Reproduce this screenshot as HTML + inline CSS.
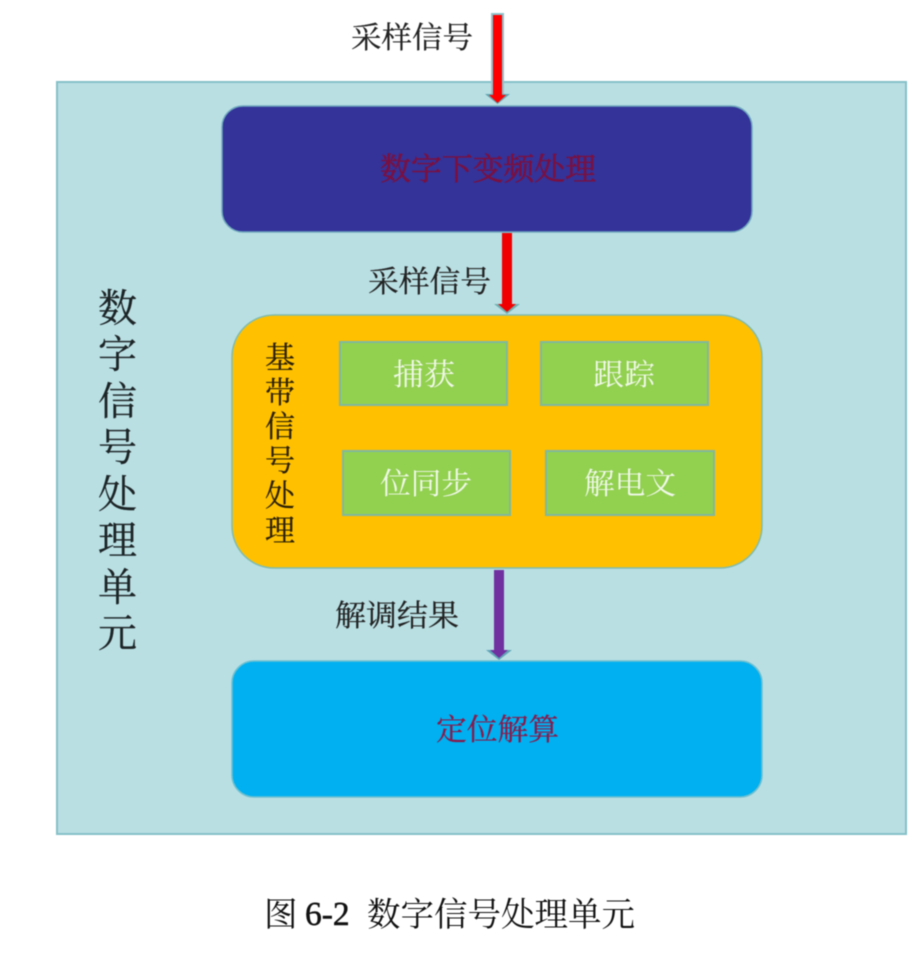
<!DOCTYPE html>
<html><head><meta charset="utf-8"><style>
html,body{margin:0;padding:0;background:#fff;width:922px;height:957px;overflow:hidden}
svg{display:block;filter:blur(.5px)}
text{font-family:"Liberation Serif","Noto Serif CJK SC",serif}
</style></head><body>
<svg width="922" height="957" viewBox="0 0 922 957" xmlns="http://www.w3.org/2000/svg">
<rect width="922" height="957" fill="#fff"/>
<rect x="57" y="82" width="849" height="752" fill="#b9dfe3" stroke="#85c0c8" stroke-width="2"/>
<rect x="222" y="106" width="530" height="126" rx="21" fill="#333399" stroke="#6fa9bd" stroke-width="1.500"/>
<rect x="232" y="315" width="530" height="253" rx="42" fill="#ffc000" stroke="#7fbcb0" stroke-width="1.500"/>
<rect x="232" y="661" width="530" height="136" rx="22" fill="#00b0f0" stroke="#6fc0d0" stroke-width="1.500"/>
<g fill="#92d050" stroke="#7fb8a0" stroke-width="2">
<rect x="340" y="342" width="167" height="63"/>
<rect x="541" y="342" width="167" height="63"/>
<rect x="343" y="451" width="167" height="64"/>
<rect x="546" y="451" width="168" height="64"/>
</g>
<polygon points="491,13 504,13 504,94 491,94" fill="#8cc4cc"/>
<polygon points="485,94 510,94 497.500,104" fill="#5fa5b0"/>
<polygon points="493,15 502,15 502,95 506,95 497.500,103 489,95 493,95" fill="#ff0000"/>
<polygon points="494,304 520,304 507,314" fill="#6fb0b0"/>
<polygon points="502,233 512,233 512,304 516,304 507,312 498,304 502,304" fill="#f00000"/>
<polygon points="486,650 512,650 499,660" fill="#5fa5b5"/>
<polygon points="494,570 504,570 504,650 508,650 499,658 490,650 494,650" fill="#7030a0"/>
<g font-size="30" fill="#222" stroke="#222" stroke-width=".25">
<text x="351" y="48" textLength="122" lengthAdjust="spacingAndGlyphs">采样信号</text>
<text x="368" y="292" textLength="123" lengthAdjust="spacingAndGlyphs">采样信号</text>
<text x="335" y="626" textLength="124" lengthAdjust="spacingAndGlyphs">解调结果</text>
</g>
<text x="380" y="180" font-size="31" fill="#7a1040" stroke="#7a1040" stroke-width=".5" textLength="216" lengthAdjust="spacingAndGlyphs">数字下变频处理</text>
<text x="436" y="740" font-size="30" fill="#8a1a4a" stroke="#8a1a4a" stroke-width=".25" textLength="123" lengthAdjust="spacingAndGlyphs">定位解算</text>
<g font-size="30" fill="#f0f8e8">
<text x="393" y="385" textLength="62" lengthAdjust="spacingAndGlyphs">捕获</text>
<text x="593" y="385" textLength="62" lengthAdjust="spacingAndGlyphs">跟踪</text>
<text x="380" y="494" textLength="92" lengthAdjust="spacingAndGlyphs">位同步</text>
<text x="584" y="494" textLength="92" lengthAdjust="spacingAndGlyphs">解电文</text>
</g>
<g font-size="30" fill="#2a2000" stroke="#2a2000" stroke-width=".25">
<text x="265" y="368">基</text>
<text x="265" y="403">带</text>
<text x="265" y="437">信</text>
<text x="265" y="471">号</text>
<text x="265" y="506">处</text>
<text x="265" y="541">理</text>
</g>
<g font-size="39" fill="#1c2426" stroke="#1c2426" stroke-width=".25">
<text x="98" y="322">数</text>
<text x="98" y="368">字</text>
<text x="98" y="415">信</text>
<text x="98" y="461">号</text>
<text x="98" y="508">处</text>
<text x="98" y="554">理</text>
<text x="98" y="601">单</text>
<text x="98" y="647">元</text>
</g>
<g font-size="33.500" fill="#111">
<text x="264" y="926">图</text>
<text x="305" y="925" stroke="#111" stroke-width=".5">6-2</text>
<text x="367" y="926" textLength="268" lengthAdjust="spacingAndGlyphs">数字信号处理单元</text>
</g>
</svg>
</body></html>
